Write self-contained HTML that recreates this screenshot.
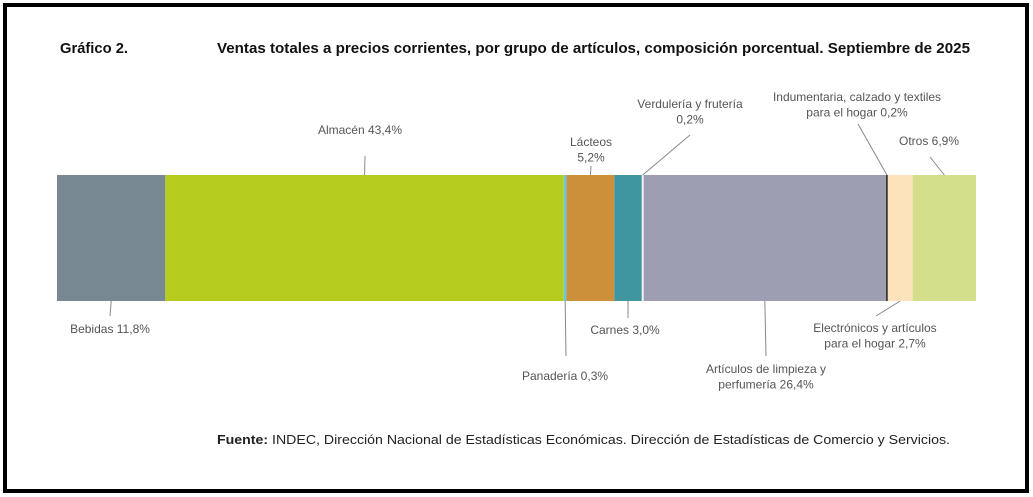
<!DOCTYPE html>
<html><head><meta charset="utf-8"><style>
html,body{margin:0;padding:0;background:#fff;}
svg{display:block;font-family:"Liberation Sans",sans-serif;}
</style></head><body>
<svg id="chart" width="1033" height="497" viewBox="0 0 1033 497">
<rect x="5" y="5" width="1022" height="486" fill="#fff" stroke="#000" stroke-width="4"/>
<text x="60" y="53" font-size="15" font-weight="bold" fill="#111" textLength="68" lengthAdjust="spacingAndGlyphs">Gráfico 2.</text>
<text x="217" y="53" font-size="15" font-weight="bold" fill="#111" textLength="753" lengthAdjust="spacingAndGlyphs">Ventas totales a precios corrientes, por grupo de artículos, composición porcentual. Septiembre de 2025</text>
<g id="bars"></g>
<g id="labels" font-size="12" fill="#555" text-anchor="middle"></g>
<text x="217" y="444" font-size="12.5" fill="#222" textLength="733" lengthAdjust="spacingAndGlyphs"><tspan font-weight="bold">Fuente:</tspan> INDEC, Dirección Nacional de Estadísticas Económicas. Dirección de Estadísticas de Comercio y Servicios.</text>
</svg>
<script>
const categories = ["Bebidas","Almacén","Panadería","Lácteos","Carnes","Verdulería y frutería","Artículos de limpieza y perfumería","Indumentaria, calzado y textiles para el hogar","Electrónicos y artículos para el hogar","Otros"];
const values = [11.8,43.4,0.3,5.2,3.0,0.2,26.4,0.2,2.7,6.9];
const valueLabels = ["11,8%","43,4%","0,3%","5,2%","3,0%","0,2%","26,4%","0,2%","2,7%","6,9%"];
const colors = ["#778893","#b5cc1f","#6cc6d8","#cc903a","#3f95a0","#f4f4f4","#9e9eb2","#333333","#fde3bb","#d4df8b"];
const layout = [
 [["Bebidas 11,8%"],110,333,110,316,"b"],
 [["Almacén 43,4%"],360,134,365,156,"t"],
 [["Panadería 0,3%"],565,380,566,356,"b"],
 [["Lácteos","5,2%"],591,146,591,166,"t"],
 [["Carnes 3,0%"],625,334,628,318,"b"],
 [["Verdulería y frutería","0,2%"],690,108,690,135,"t"],
 [["Artículos de limpieza y","perfumería 26,4%"],766,373,766,356,"b"],
 [["Indumentaria, calzado y textiles","para el hogar 0,2%"],857,101,858,124,"t"],
 [["Electrónicos y artículos","para el hogar 2,7%"],875,332,876,316,"b"],
 [["Otros 6,9%"],929,145,930,157,"t"]
];
const X0=57,X1=976,Y0=175,Y1=301;
const total=values.reduce((a,b)=>a+b,0);
const xScale=v=>X0+(v/total)*(X1-X0);
const ns="http://www.w3.org/2000/svg";
const gb=document.getElementById('bars'), gl=document.getElementById('labels');
let cum=0;
values.forEach((v,i)=>{
  const x=xScale(cum), w=xScale(cum+v)-x; cum+=v;
  const r=document.createElementNS(ns,'rect');
  r.setAttribute('x',x);r.setAttribute('y',Y0);r.setAttribute('width',Math.max(w,0.8));r.setAttribute('height',Y1-Y0);
  r.setAttribute('fill',colors[i]);
  
  
  gb.appendChild(r);
  const L=layout[i], cx=x+w/2;
  const ln=document.createElementNS(ns,'line');
  ln.setAttribute('x1',cx);ln.setAttribute('y1',L[5]==="t"?Y0:Y1);
  ln.setAttribute('x2',L[3]);ln.setAttribute('y2',L[4]);
  ln.setAttribute('stroke','#888');ln.setAttribute('stroke-width','1');
  
  
  gl.appendChild(ln);
  L[0].forEach((t,k)=>{
    const tx=document.createElementNS(ns,'text');
    tx.setAttribute('x',L[1]);tx.setAttribute('y',L[2]+k*15.5);
    tx.textContent=t;
    
    
    gl.appendChild(tx);
  });
});
</script>
</body></html>
